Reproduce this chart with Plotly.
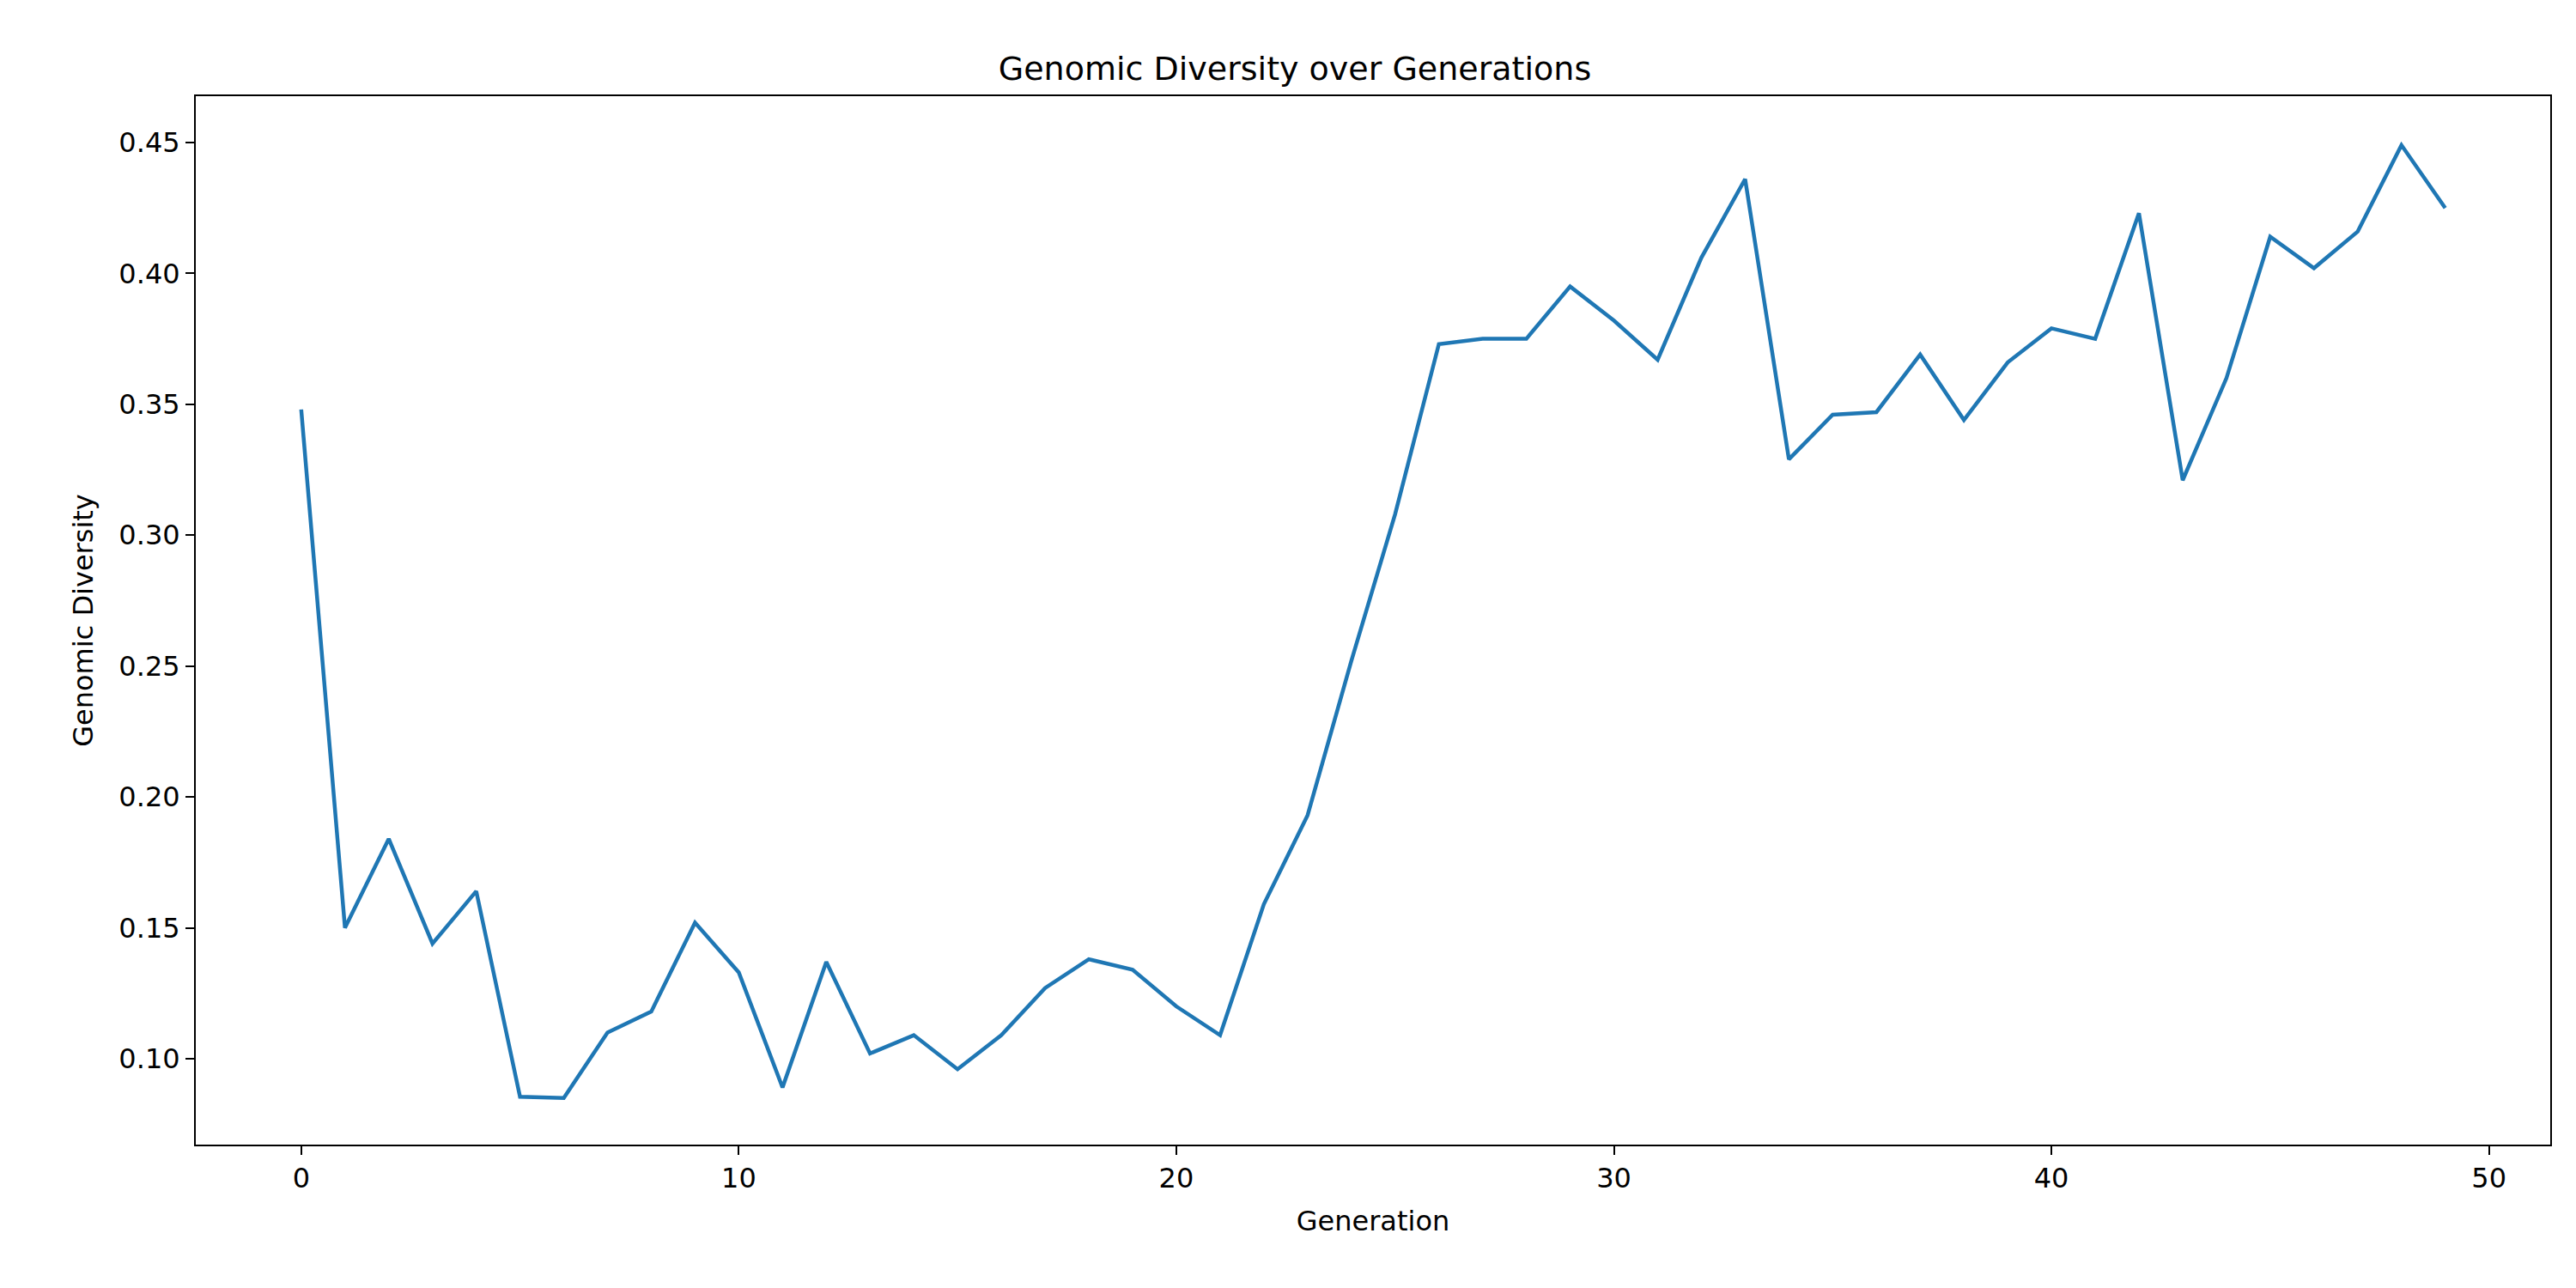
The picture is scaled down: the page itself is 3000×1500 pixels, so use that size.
import plotly.graph_objects as go

generations = list(range(50))
diversity = [0.348, 0.150, 0.184, 0.144, 0.164, 0.0855, 0.085, 0.110, 0.118, 0.152,
             0.133, 0.089, 0.137, 0.102, 0.109, 0.096, 0.109, 0.127, 0.138, 0.134,
             0.120, 0.109, 0.159, 0.193, 0.252, 0.308, 0.373, 0.375, 0.375, 0.395,
             0.382, 0.367, 0.406, 0.436, 0.329, 0.346, 0.347, 0.369, 0.344, 0.366,
             0.379, 0.375, 0.423, 0.321, 0.360, 0.414, 0.402, 0.416, 0.449, 0.425]

fig = go.Figure(go.Scatter(x=generations, y=diversity, mode="lines",
                           line=dict(color="#1f77b4", width=4.5)))
axis = dict(showgrid=False, zeroline=False, showline=True, mirror=True, linecolor="black",
            linewidth=2, ticks="outside", ticklen=10, tickwidth=2, tickcolor="black",
            tickfont=dict(size=32, color="black"))
fig.update_layout(
    width=3000, height=1500, plot_bgcolor="white", paper_bgcolor="white",
    font=dict(family="DejaVu Sans", color="black"),
    title=dict(text="Genomic Diversity over Generations", x=0.5, xanchor="center",
               y=0.952, yanchor="middle", font=dict(size=38)),
    margin=dict(l=220, r=38, t=104, b=175),
    showlegend=False,
)
fig.update_xaxes(axis, range=[-2.41, 51.4], tickvals=[0, 10, 20, 30, 40, 50],
                 title=dict(text="Generation", font=dict(size=32), standoff=20))
fig.update_yaxes(axis, range=[0.0672, 0.4677], tickvals=[0.10, 0.15, 0.20, 0.25, 0.30, 0.35, 0.40, 0.45],
                 tickformat=".2f", title=dict(text="Genomic Diversity", font=dict(size=32), standoff=20))
fig.write_html("out.html")
